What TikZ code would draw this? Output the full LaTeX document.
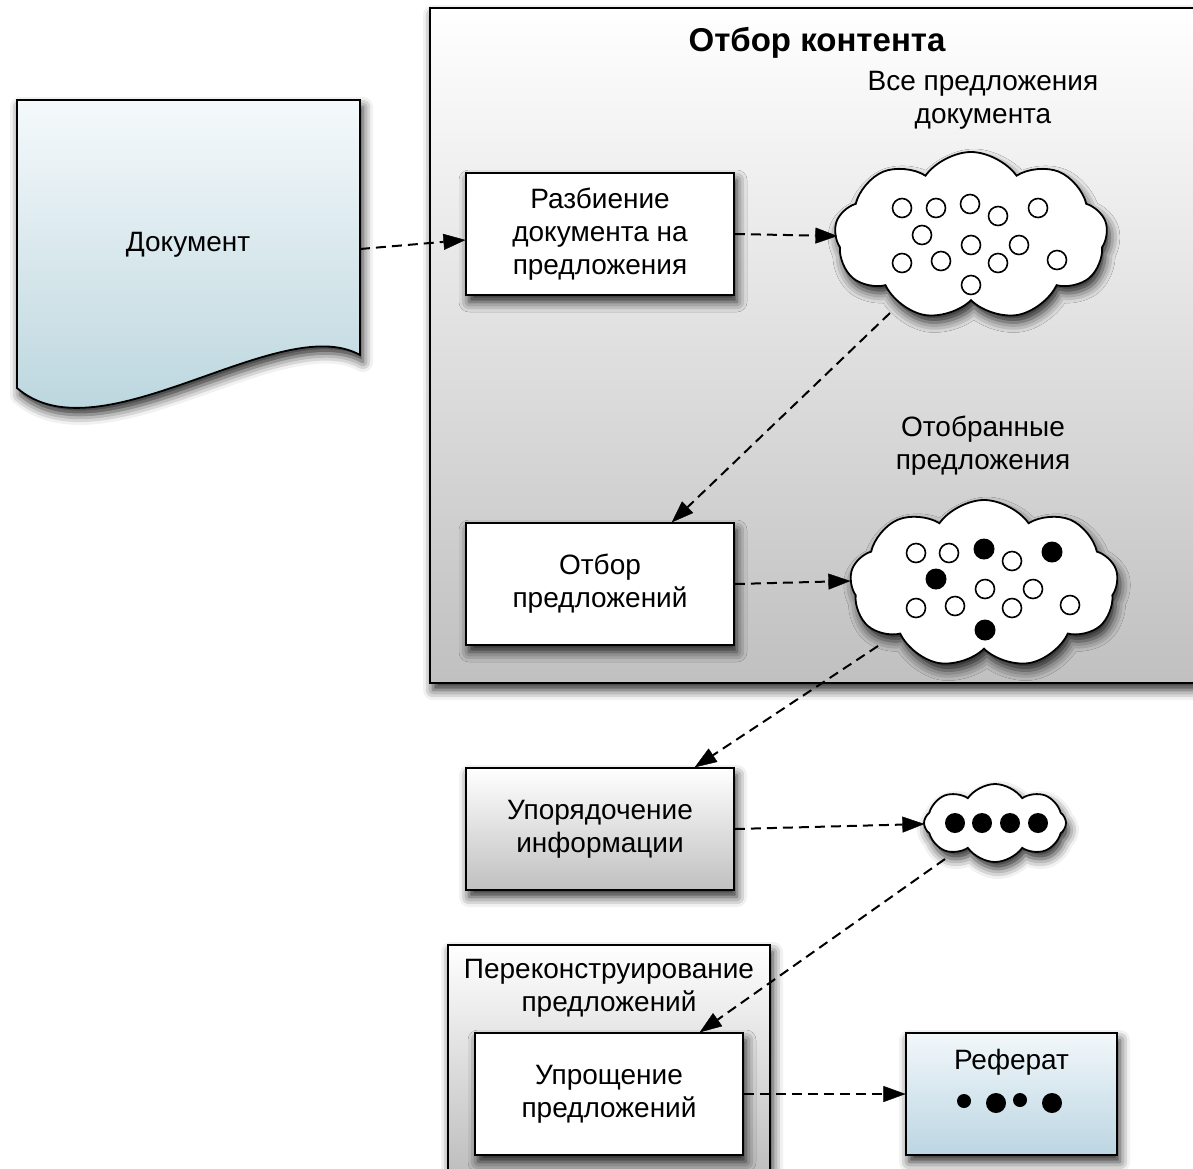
\documentclass[tikz,border=0pt]{standalone}
\usepackage{fontspec}
\setmainfont{Liberation Sans}
\usetikzlibrary{shapes.symbols,arrows.meta,shadows.blur,calc}
\definecolor{docTop}{HTML}{F5F9FB}
\definecolor{docBot}{HTML}{B3D1DA}
\definecolor{refTop}{HTML}{F2F7FA}
\definecolor{refBot}{HTML}{BCD6E3}
\definecolor{grayBot}{HTML}{C0C0C0}
\definecolor{grayBotB}{HTML}{A8A8A8}
\begin{document}
\begin{tikzpicture}[x=1pt,y=-1pt,
  every node/.style={font=\fontsize{28}{33}\selectfont},
  sh/.style={blur shadow={shadow xshift=3pt,shadow yshift=-7pt,shadow blur radius=10pt,shadow opacity=85}},
  box/.style={draw=black,line width=1.8pt,fill=white,minimum width=268pt,minimum height=122pt,align=center,inner sep=0pt,sh},
  gbox/.style={box,top color=white,bottom color=grayBot},
  cld/.style={cloud,cloud puff arc=110,cloud ignores aspect,draw=black,line width=1.8pt,fill=white,inner sep=0pt,sh},
  opendot/.style={draw=black,line width=1.6pt,fill=white},
  arr/.style={line width=2pt,dash pattern=on 10pt off 6pt,-{Triangle[length=22pt,width=16pt,fill=black,line width=0.4pt,round]}},
  lbl/.style={align=center,inner sep=0pt}
]
\useasboundingbox (0,0) rectangle (1193,1168);

% Document shape
\draw[line width=1.8pt,top color=docTop,bottom color=docBot,sh]
  (17,100) -- (360,100) -- (360,355) .. controls (280,310) and (100,460) .. (17,388) -- cycle;
\node (doc) at (188,245) {Документ};
\coordinate (docR) at (360,249);

% Content selection container
\node[draw=black,line width=1.8pt,top color=white,bottom color=grayBot,minimum width=800pt,minimum height=675pt,inner sep=0pt,sh] (cs) at (830,345.5) {};
\node[font=\bfseries\fontsize{33}{40}\selectfont] (title) at (817,43) {Отбор контента};
\node[lbl] (l1) at (983,100) {Все предложения\\документа};
\node[lbl] (l2) at (983,446) {Отобранные\\предложения};

\node[box] (b1) at (600,234) {Разбиение\\документа на\\предложения};
\node[box] (b2) at (600,584) {Отбор\\предложений};

\node[cld,cloud puffs=9,minimum width=273pt,minimum height=168pt] (c1) at (971,236) {};
\foreach \p in {(902,208),(936,208),(970,204),(998,216),(1038,208),(922,235),(971,245),(1019,245),(902,263),(941,261),(998,263),(1057,260),(971,285)}
  \draw[opendot] \p circle (9.5pt);

\node[cld,cloud puffs=9,minimum width=268pt,minimum height=168pt] (c2) at (984,584) {};
\foreach \p in {(916,553),(949,553),(1012,561),(985,589),(1033,589),(916,608),(955,606),(1012,608),(1070,605)}
  \draw[opendot] \p circle (9.5pt);
\foreach \p in {(984,549),(1052,552),(936,579),(985,630)}
  \fill[black] \p circle (10.5pt);

% Ordering
\node[gbox] (b3) at (600,829) {Упорядочение\\информации};
\node[cld,cloud puffs=8,minimum width=142pt,minimum height=78pt] (c3) at (995,823) {};
\foreach \p in {(955,823),(982,823),(1010,823),(1038,823)}
  \fill[black] \p circle (10pt);

% Reconstruction container
\node[draw=black,line width=1.8pt,top color=white,bottom color=grayBotB,minimum width=322pt,minimum height=305pt,inner sep=0pt,sh] (cr) at (609,1097.5) {};
\node[lbl] (l3) at (609,988) {Переконструирование\\предложений};
\node[box] (b4) at (609,1094) {Упрощение\\предложений};

% Summary
\node[draw=black,line width=1.8pt,top color=refTop,bottom color=refBot,minimum width=211pt,minimum height=122pt,inner sep=0pt,sh] (ref) at (1011.5,1094) {};
\node (reft) at (1011.5,1062) {Реферат};
\fill[black] (964,1101) circle (7pt) (996,1103) circle (10pt) (1020,1100) circle (7pt) (1052,1103) circle (10pt);

% Connectors
\draw[arr] (docR) -- ($(b1.west)+(0,6)$);
\draw[arr] (b1.east) -- ($(c1.center)+(-134,0)$);
\draw[arr] ($(c1.center)+(-81,77)$) -- ($(b2.north)+(72,0)$);
\draw[arr] (b2.east) -- ($(c2.center)+(-134,-3)$);
\draw[arr] ($(c2.center)+(-106,62)$) -- ($(b3.north)+(95,0)$);
\draw[arr] (b3.east) -- ($(c3.center)+(-71,1)$);
\draw[arr] ($(c3.center)+(-50,36)$) -- ($(b4.north)+(91,0)$);
\draw[arr] (b4.east) -- (ref.west);
\end{tikzpicture}
\end{document}
